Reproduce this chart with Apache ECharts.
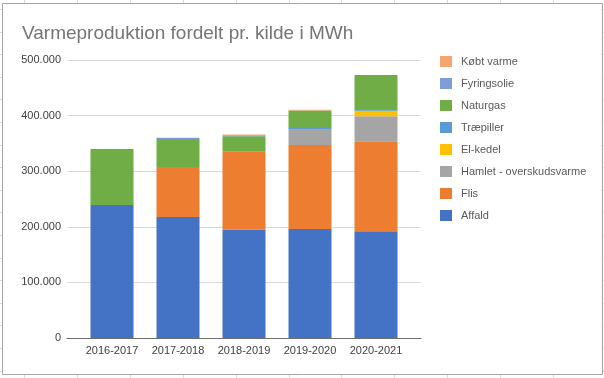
<!DOCTYPE html>
<html><head><meta charset="utf-8">
<script src="https://cdn.jsdelivr.net/npm/echarts@6/dist/echarts.min.js"></script>
<style>html,body{margin:0;padding:0;background:#fff}#c{width:604px;height:378px}</style>
</head><body><div id="c"></div>
<script>
const categories = ['2016-2017','2017-2018','2018-2019','2019-2020','2020-2021'];
const affald      = [239000, 217500, 195000, 196000, 192000];
const flis        = [0, 90000, 140000, 151000, 162000];
const hamlet      = [0, 0, 0, 29000, 45000];
const elkedel     = [0, 0, 0, 0, 9000];
const traepiller  = [0, 0, 0, 1500, 1500];
const naturgas    = [101000, 50500, 28000, 31500, 63500];
const fyringsolie = [0, 2000, 1500, 0, 0];
const koebtVarme  = [0, 0, 1500, 1500, 0];
const yTicks = [0, 100000, 200000, 300000, 400000, 500000];

const seriesDefs = [
  {name:'Affald', data:affald, color:'#4472C4'},
  {name:'Flis', data:flis, color:'#ED7D31'},
  {name:'Hamlet - overskudsvarme', data:hamlet, color:'#A5A5A5'},
  {name:'El-kedel', data:elkedel, color:'#FFC000'},
  {name:'Træpiller', data:traepiller, color:'#5B9BD5'},
  {name:'Naturgas', data:naturgas, color:'#70AD47'},
  {name:'Fyringsolie', data:fyringsolie, color:'#7F9DD8'},
  {name:'Købt varme', data:koebtVarme, color:'#F4A570'}
];

const fmt = v => v === 0 ? '0' : String(v).replace(/\B(?=(\d{3})+(?!\d))/g, '.');
const FONT = 'Liberation Sans';
const chart = echarts.init(document.getElementById('c'), null, {renderer:'canvas'});

// spreadsheet cell lines outside the chart frame
const deco = [];
[24,77,130,183,236,289,341,394,447,500,553].forEach(x=>{
  deco.push({type:'line', shape:{x1:x+0.5,y1:0,x2:x+0.5,y2:3}, style:{stroke:'#dadada',lineWidth:1}, silent:true});
  deco.push({type:'line', shape:{x1:x+0.5,y1:375,x2:x+0.5,y2:378}, style:{stroke:'#dadada',lineWidth:1}, silent:true});
});
for (let y = 9; y < 378; y += 22.6) {
  const yy = Math.round(y)+0.5;
  deco.push({type:'line', shape:{x1:0,y1:yy,x2:2,y2:yy}, style:{stroke:'#dadada',lineWidth:1}, silent:true});
  deco.push({type:'line', shape:{x1:603,y1:yy,x2:604,y2:yy}, style:{stroke:'#dadada',lineWidth:1}, silent:true});
}
deco.push({type:'rect', shape:{x:2.5,y:3.5,width:600,height:371}, style:{fill:'none',stroke:'#a6a6a6',lineWidth:1}, silent:true, z:-1});

chart.setOption({
  animation:false,
  backgroundColor:'#fff',
  title:{text:'Varmeproduktion fordelt pr. kilde i MWh', left:17, top:19,
    textStyle:{fontFamily:FONT, fontSize:19, fontWeight:'normal', color:'#757575'}},
  legend:{orient:'vertical', left:435, top:51, itemWidth:12, itemHeight:11, itemGap:11,
    icon:'rect',
    data: seriesDefs.slice().reverse().map(s=>s.name),
    textStyle:{fontFamily:FONT, fontSize:11, color:'#595959', padding:[0,0,0,4], lineHeight:11}},
  grid:[
    {left:67, right:183, top:60, bottom:40},
    {left:79, right:195, top:60, bottom:40}
  ],
  xAxis:[
    {gridIndex:0, type:'category', data:categories, axisLabel:{show:false}, axisTick:{show:false},
      axisLine:{lineStyle:{color:'#6e6e6e', width:1}}},
    {gridIndex:1, type:'category', data:categories, axisTick:{show:false}, axisLine:{show:false},
      axisLabel:{fontFamily:FONT, fontSize:11, color:'#404040', margin:7, interval:0}}
  ],
  yAxis:[
    {gridIndex:0, type:'value', min:yTicks[0], max:yTicks[yTicks.length-1], interval:yTicks[1]-yTicks[0],
      axisLine:{show:false}, axisTick:{show:false},
      axisLabel:{fontFamily:FONT, fontSize:11, color:'#404040', margin:6, formatter:fmt},
      splitLine:{lineStyle:{color:'#d9d9d9', width:1}}},
    {gridIndex:1, type:'value', min:yTicks[0], max:yTicks[yTicks.length-1], interval:yTicks[1]-yTicks[0],
      axisLine:{show:false}, axisTick:{show:false}, axisLabel:{show:false}, splitLine:{show:false}}
  ],
  series: seriesDefs.map(s=>({
    name:s.name, type:'bar', stack:'total', xAxisIndex:1, yAxisIndex:1,
    data:s.data, barWidth:43, itemStyle:{color:s.color}, emphasis:{disabled:true}
  })),
  graphic: deco
});
</script></body></html>
